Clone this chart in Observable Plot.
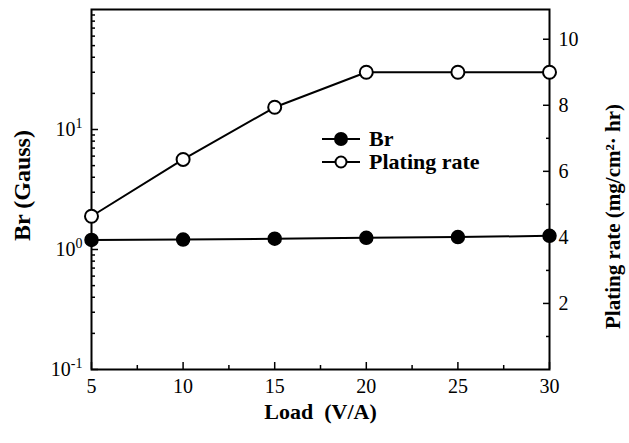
<!DOCTYPE html>
<html>
<head>
<meta charset="utf-8">
<script src="https://cdn.jsdelivr.net/npm/d3@7"></script>
<script src="https://cdn.jsdelivr.net/npm/@observablehq/plot@0.6"></script>
<style>
  html, body { margin: 0; padding: 0; background: #fff; }
  #wrap { position: relative; width: 629px; height: 443px; font-family: "Liberation Serif", "Times New Roman", Times, "DejaVu Serif", serif; }
  #wrap svg { position: absolute; left: 0; top: 0; }
  #legend { position: absolute; left: 321px; top: 127px; font-weight: bold; font-size: 22px; line-height: 23px; }
  #legend .row { display: flex; align-items: center; height: 23px; }
  #legend svg { position: static; margin-right: 8px; }
</style>
</head>
<body>
<div id="wrap"></div>
<script>
// ---- data ----
const load = [5, 10, 15, 20, 25, 30];
const br = [1.2, 1.21, 1.23, 1.25, 1.27, 1.3];
const platingRate = [4.64, 6.36, 7.94, 9.0, 9.0, 9.0];

// ---- ticks ----
const xTicks = [5, 10, 15, 20, 25, 30];
const xMinorTicks = [7.5, 12.5, 17.5, 22.5, 27.5];
const brTicks = [0.1, 1, 10];
const brTickLabels = ["10^-1", "10^0", "10^1"];
const brMinorTicks = [0.2, 0.3, 0.4, 0.5, 0.6, 0.7, 0.8, 0.9, 2, 3, 4, 5, 6, 7, 8, 9, 20, 30, 40, 50, 60, 70, 80, 90];
const rateTicks = [2, 4, 6, 8, 10];
const rateMinorTicks = [1, 3, 5, 7, 9];

const seriesNames = ["Br", "Plating rate"];
const xTitle = "Load\u00a0 (V/A)";
const yLeftTitle = "Br (Gauss)";
const yRightTitle = "Plating rate (mg/cm\u00b2\u00b7 hr)";

const brData = load.map((x, i) => ({x, y: br[i]}));
const rateData = load.map((x, i) => ({x, y: platingRate[i]}));

const FONT = "'Liberation Serif', 'Times New Roman', Times, 'DejaVu Serif', serif";
const common = {
  width: 629, height: 443,
  marginTop: 9, marginRight: 80, marginBottom: 74, marginLeft: 91,
  style: {fontFamily: FONT, fontSize: "20px", background: "transparent", color: "black"}
};

const p1 = Plot.plot({
  ...common,
  x: {domain: [5, 30]},
  y: {type: "log", domain: [0.1, 100]},
  marks: [
    Plot.axisX({ticks: xTicks, tickSize: -7, tickFormat: d => String(d), label: null, strokeWidth: 1.5}),
    Plot.axisX({ticks: xMinorTicks, tickSize: -4, tickFormat: () => "", label: null, strokeWidth: 1.5}),
    Plot.axisY({ticks: brTicks, tickSize: -7, tickFormat: d => brTickLabels[brTicks.indexOf(d)], label: null, strokeWidth: 1.5}),
    Plot.axisY({ticks: brMinorTicks, tickSize: -4, tickFormat: () => "", label: null, strokeWidth: 1.5}),
    Plot.frame({stroke: "black", strokeWidth: 2}),
    Plot.line(brData, {x: "x", y: "y", stroke: "black", strokeWidth: 2}),
    Plot.dot(brData, {x: "x", y: "y", r: 6.5, fill: "black", stroke: "black"}),
    Plot.text([xTitle], {text: d => d, frameAnchor: "bottom", dy: 42, textAnchor: "middle", lineAnchor: "middle", fontWeight: "bold", fontSize: 22}),
    Plot.text([yLeftTitle], {text: d => d, frameAnchor: "left", dx: -69, dy: -4, rotate: -90, textAnchor: "middle", lineAnchor: "middle", fontWeight: "bold", fontSize: 24})
  ]
});

const p2 = Plot.plot({
  ...common,
  x: {domain: [5, 30], axis: null},
  y: {domain: [0, 10.9], axis: null},
  marks: [
    Plot.axisY({anchor: "right", ticks: rateTicks, tickSize: -7, tickFormat: d => String(d), label: null, strokeWidth: 1.5}),
    Plot.axisY({anchor: "right", ticks: rateMinorTicks, tickSize: -4, tickFormat: () => "", label: null, strokeWidth: 1.5}),
    Plot.line(rateData, {x: "x", y: "y", stroke: "black", strokeWidth: 2}),
    Plot.dot(rateData, {x: "x", y: "y", r: 6.5, fill: "white", stroke: "black", strokeWidth: 2}),
    Plot.text([yRightTitle], {text: d => d, frameAnchor: "right", dx: 64, dy: 27, rotate: -90, textAnchor: "middle", lineAnchor: "middle", fontWeight: "bold", fontSize: 21})
  ]
});

const wrap = document.getElementById("wrap");
wrap.appendChild(p1);
wrap.appendChild(p2);

// superscripts for the log tick labels
p1.querySelectorAll('g[aria-label="y-axis tick label"] text').forEach(t => {
  const s = t.textContent;
  if (s.includes("^")) {
    const [b, e] = s.split("^");
    t.textContent = b;
    const ts = document.createElementNS("http://www.w3.org/2000/svg", "tspan");
    ts.setAttribute("dy", "-0.55em");
    ts.setAttribute("font-size", "0.7em");
    ts.textContent = e;
    t.appendChild(ts);
  }
});

// legend
const legend = document.createElement("div");
legend.id = "legend";
seriesNames.forEach((name, i) => {
  const row = document.createElement("div");
  row.className = "row";
  const filled = i === 0;
  row.innerHTML = `<svg width="40" height="16" viewBox="0 0 40 16"><line x1="1" x2="39" y1="8" y2="8" stroke="black" stroke-width="2"/><circle cx="20" cy="8" r="${filled ? 6 : 5.5}" fill="${filled ? "black" : "white"}" stroke="black" stroke-width="2"/></svg><span>${name}</span>`;
  legend.appendChild(row);
});
wrap.appendChild(legend);
</script>
</body>
</html>
